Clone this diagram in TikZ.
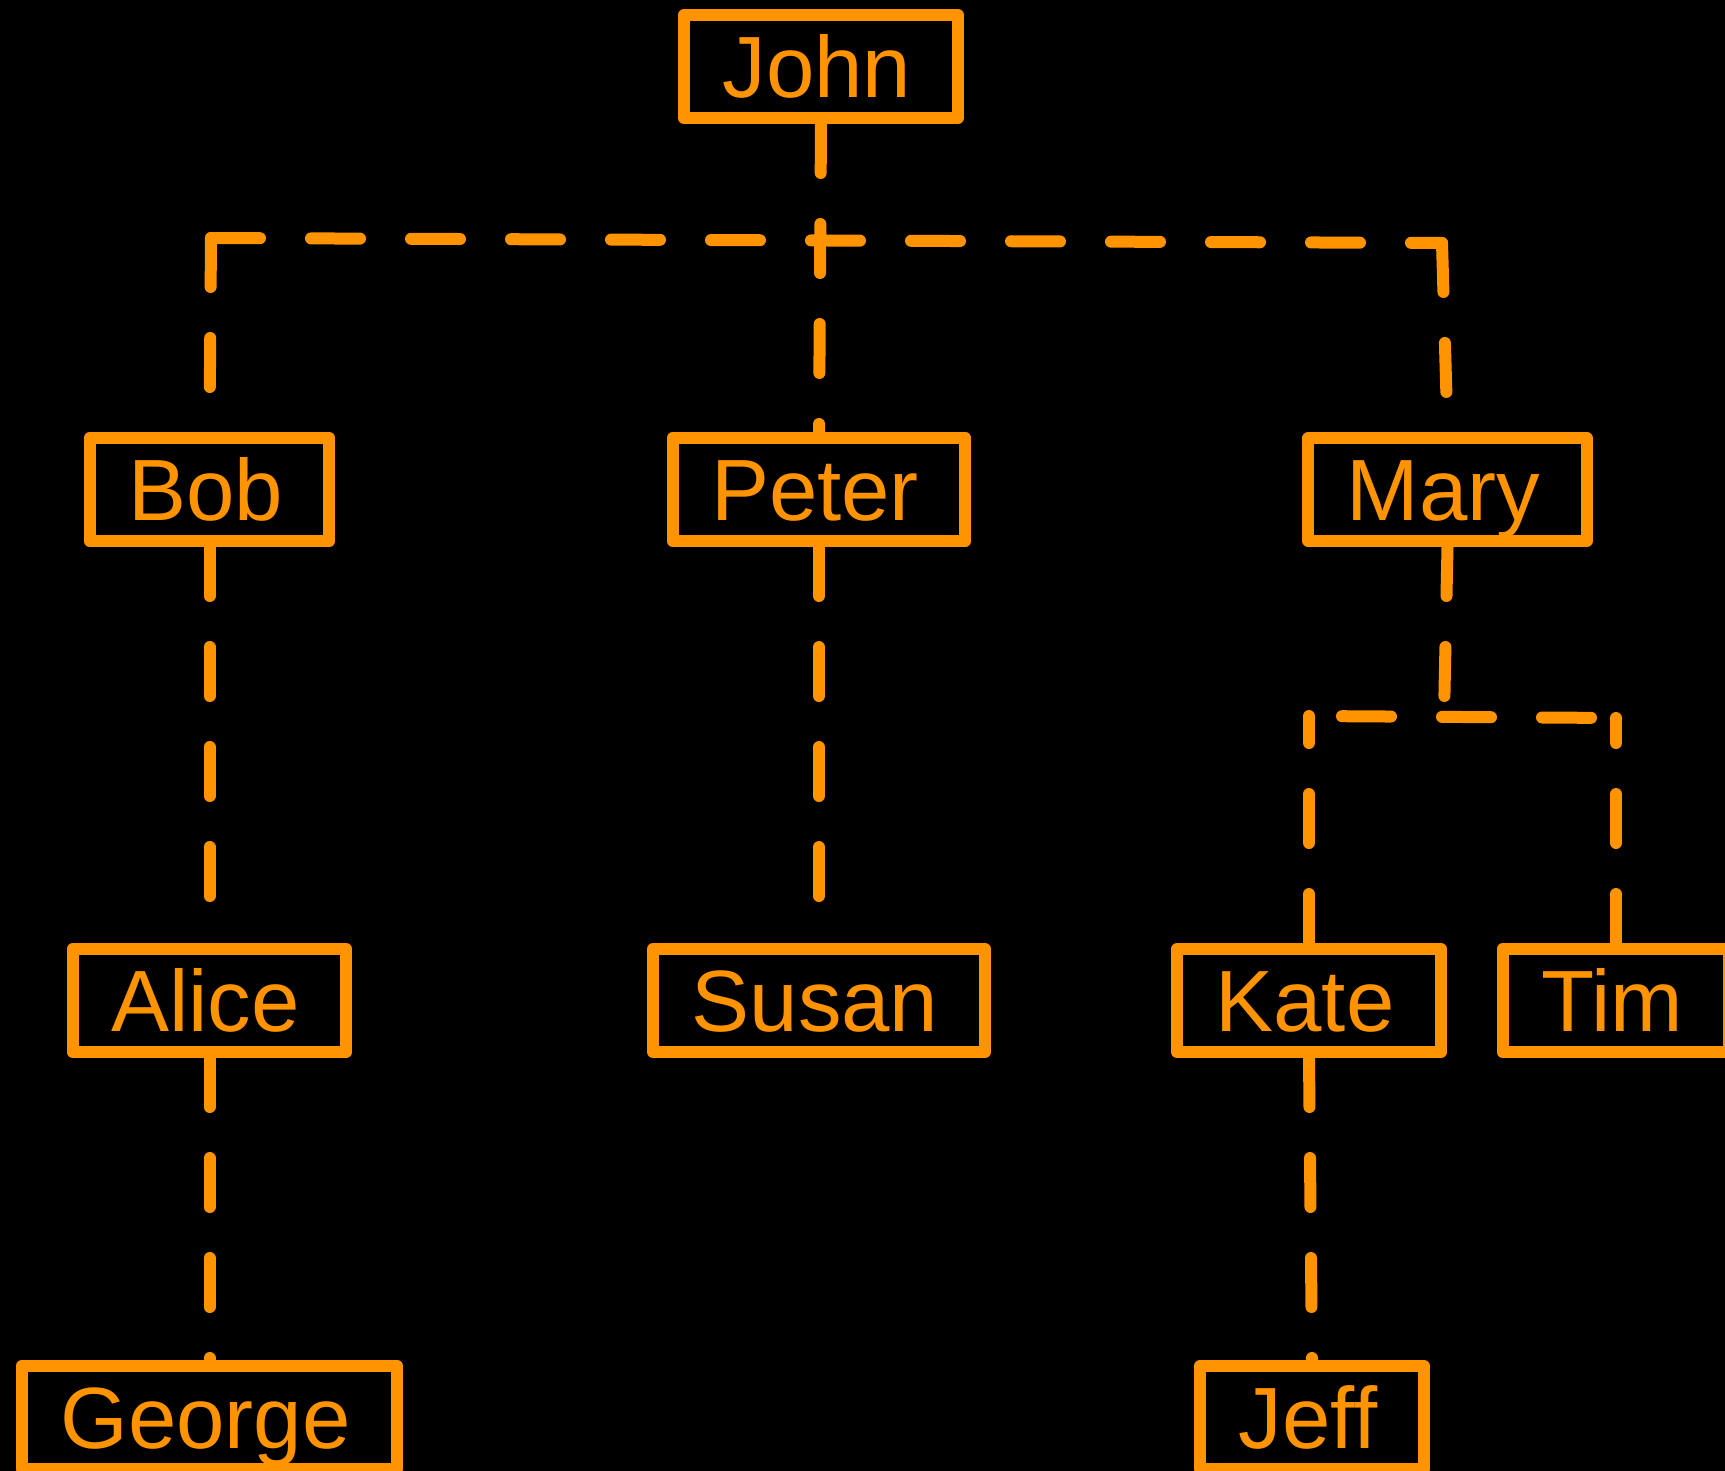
\documentclass[tikz,border=0pt]{standalone}
\usepackage{fontspec}
\setmainfont{Liberation Sans}
\definecolor{tor}{RGB}{255,148,0}
\begin{document}
\begin{tikzpicture}[x=1pt,y=-1pt,
  person/.style={draw=tor, text=tor, line width=12pt, line join=round,
    font=\fontsize{87}{100}\selectfont, inner xsep=42.5pt, inner ysep=0pt,
    text height=62.3pt, text depth=0pt, minimum height=103pt,
    execute at begin node=\kern-4pt, execute at end node=\kern4pt},
  link/.style={draw=tor, line width=12pt, line cap=round, dash pattern=on 49pt off 51pt}]
\fill[black] (0,0) rectangle (1725,1471);
\useasboundingbox (0,0) rectangle (1725,1471);
% nodes
\node[person] (john)   at (821,66.5)    {John};
\node[person] (bob)    at (209.5,489.5) {Bob};
\node[person] (peter)  at (819,489.5)   {Peter};
\node[person] (mary)   at (1447.5,489.5){Mary};
\node[person] (alice)  at (209.5,1000.5){Alice};
\node[person] (susan)  at (819,1000.5)  {Susan};
\node[person] (kate)   at (1309,1000.5) {Kate};
\node[person] (tim)    at (1616,1000.5) {Tim};
\node[person] (george) at (209.5,1417.5){George};
\node[person] (jeff)   at (1312,1417.5) {Jeff};
% corners
\coordinate (bc) at (211,238);
\coordinate (mc) at (1442,243);
\coordinate (ms) at (1444,716);
\coordinate (kc) at (1309,716);
\coordinate (tc) at (1616,718);
% connectors
\draw[link] (john.south) -- (peter.north);
\draw[link] (bc) -- (mc);
\draw[link] (bc) -- (bob.north);
\draw[link] (mc) -- (mary.north);
\draw[link] (mary.south) -- (ms);
\draw[link, dash phase=67pt] (kc) -- (tc);
\draw[link] (kate.north) -- (kc);
\draw[link] (tim.north) -- (tc);
\draw[link] (bob.south) -- (alice.north);
\draw[link] (peter.south) -- (susan.north);
\draw[link] (alice.south) -- (george.north);
\draw[link] (kate.south) -- (jeff.north);
\end{tikzpicture}
\end{document}
